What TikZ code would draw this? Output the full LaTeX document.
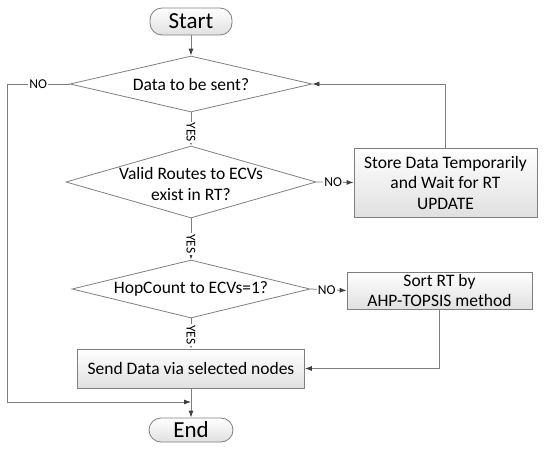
\documentclass[tikz,border=0pt]{standalone}
\usepackage{fontspec}
\setmainfont{Carlito}
\usetikzlibrary{arrows.meta,shapes.geometric}
\definecolor{ln}{HTML}{7F7F7F}
\definecolor{tipc}{HTML}{3F3F3F}
\definecolor{shd}{HTML}{E0E0E0}
\begin{document}
\begin{tikzpicture}[x=1pt,y=-1pt,
 line width=0.8pt,
 term/.style={draw=ln, rounded corners=12pt, top color=white, bottom color=shd, inner sep=0pt, font=\fontsize{23}{26}\selectfont},
 proc/.style={draw=ln, top color=white, bottom color=shd, inner sep=0pt, align=center, font=\fontsize{17.5}{20.5}\selectfont},
 dec/.style={draw=ln, diamond, inner sep=0pt},
 dtext/.style={align=center, inner sep=0pt, font=\fontsize{17.5}{20.5}\selectfont},
 conn/.style={draw=ln, -{Latex[length=7pt,width=5pt,color=tipc]}},
 lbl/.style={fill=white, inner sep=1pt, font=\fontsize{13.5}{14}\selectfont},
 ylbl/.style={lbl, rotate=-90}
]
\useasboundingbox (0,0) rectangle (550,450);
\node[term, minimum width=82pt, minimum height=27pt] (start) at (191,21.5) {Start};
\node[dec, minimum width=242pt, minimum height=56pt] (d1) at (191,84) {};
\node[dtext] (d1t) at (191,84) {Data to be sent?};
\node[dec, minimum width=250pt, minimum height=72pt] (d2) at (191,182) {};
\node[dtext] (d2t) at (191,184) {Valid Routes to ECVs\\exist in RT?};
\node[dec, minimum width=238pt, minimum height=58pt] (d3) at (191,289) {};
\node[dtext] (d3t) at (191,289) {HopCount to ECVs=1?};
\node[proc, minimum width=183pt, minimum height=69pt] (store) at (445.5,182.5) {Store Data Temporarily\\and Wait for RT\\UPDATE};
\node[proc, minimum width=185pt, minimum height=37pt] (sort) at (439.5,290.5) {Sort RT by\\AHP-TOPSIS method};
\node[proc, minimum width=227pt, minimum height=39pt] (send) at (191,368.5) {Send Data via selected nodes};
\node[term, minimum width=84pt, minimum height=24pt] (end) at (191,430) {End};
\coordinate (join) at (191,402);

\draw[conn] (start.south) -- (d1.north);
\draw[conn] (d1.south) -- node[ylbl, pos=0.6]{YES} (d2.north);
\draw[conn] (d2.south) -- node[ylbl, pos=0.62]{YES} (d3.north);
\draw[conn] (d3.south) -- node[ylbl, pos=0.55]{YES} (send.north);
\draw[conn] (d2.east) -- node[lbl, pos=0.45]{NO} (store.west);
\draw[conn] (d3.east) -- node[lbl, pos=0.45]{NO} (sort.west);
\draw[conn] (store.north) |- (d1.east);
\draw[conn] (sort.south) |- (send.east);
\draw[conn] (d1.west) -- node[lbl]{NO} (7,84) |- (join);
\draw[conn] (send.south) -- (end.north);
\end{tikzpicture}
\end{document}
